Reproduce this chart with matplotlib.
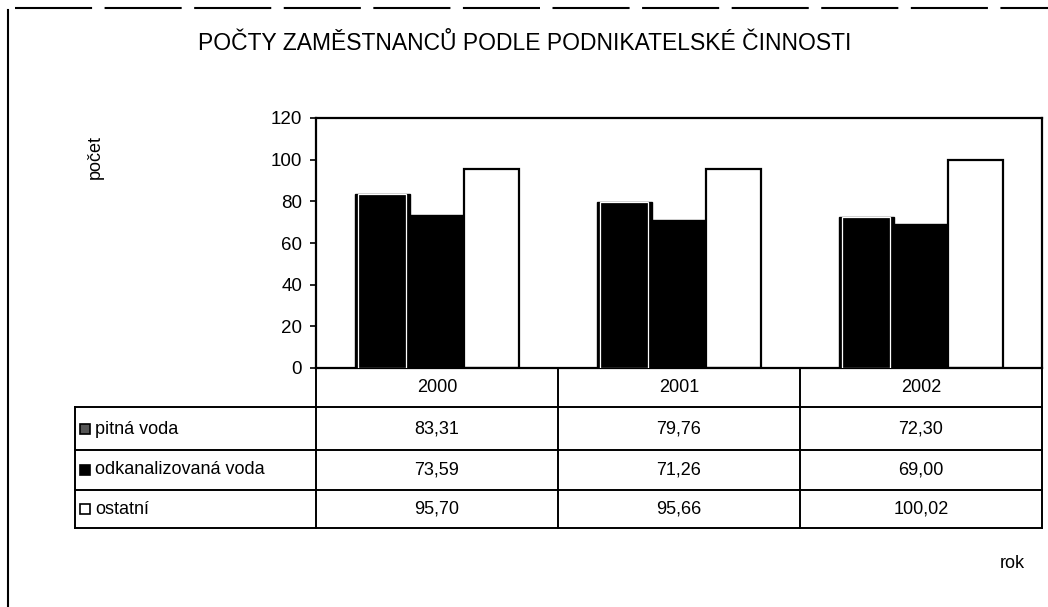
import matplotlib.pyplot as plt
import numpy as np
from matplotlib.lines import Line2D
from matplotlib.patches import Rectangle
from matplotlib.transforms import blended_transform_factory

years = ["2000", "2001", "2002"]
series_names = ["pitná voda", "odkanalizovaná voda", "ostatní"]
pitna = [83.31, 79.76, 72.30]
odkanalizovana = [73.59, 71.26, 69.00]
ostatni = [95.70, 95.66, 100.02]
yticks = [0, 20, 40, 60, 80, 100, 120]

W, H = 1048, 607
plt.rcParams["font.family"] = ["Liberation Sans", "DejaVu Sans"]


def fx(px):
    return px / W


def fy(py):
    return 1 - py / H


def fmt(v):
    return f"{v:.2f}".replace(".", ",")


fig = plt.figure(figsize=(W / 100, H / 100), dpi=100)
fig.patch.set_facecolor("white")

# page edges from the scan
fig.add_artist(Line2D([fx(8), fx(8)], [fy(10), fy(607)], color="black", lw=1.5))
fig.add_artist(Line2D([fx(15), fx(1048)], [fy(8), fy(8)], color="black", lw=1.5,
                      linestyle=(0, (37, 6))))

ax = fig.add_axes([fx(316), fy(368), fx(1042) - fx(316), fy(118) - fy(368)])
x = np.arange(len(years))
w = 0.227
ax.bar(x - w, pitna, w, color="black", edgecolor="black", lw=1, zorder=2)
ax.bar(x - w, pitna, w * 0.86, color="none", edgecolor="white", lw=0.9, zorder=3)
ax.bar(x, odkanalizovana, w, color="black", edgecolor="black", lw=1, zorder=2)
ax.bar(x + w, ostatni, w, color="white", edgecolor="black", lw=1.6, zorder=2)

ax.set_xlim(-0.5, len(years) - 0.5)
ax.set_ylim(0, 120)
ax.set_yticks(yticks)
ax.tick_params(axis="y", labelsize=13.5, length=4, width=1.2, direction="out", pad=6)
ax.set_xticks([])
for s in ax.spines.values():
    s.set_linewidth(1.6)

fig.text(fx(525), fy(43), "POČTY ZAMĚSTNANCŮ PODLE PODNIKATELSKÉ ČINNOSTI",
         ha="center", va="center", fontsize=16.5)
fig.text(fx(95), fy(157), "počet", rotation=90, ha="center", va="center", fontsize=13)
fig.text(fx(1012), fy(563), "rok", ha="center", va="center", fontsize=13)

# data table under the chart
row_lines = [407, 450, 490, 528]
col_lines = [316, 558, 800, 1042]
for py in row_lines:
    fig.add_artist(Line2D([fx(75), fx(1042)], [fy(py), fy(py)], color="black", lw=1.4))
for px in col_lines:
    fig.add_artist(Line2D([fx(px), fx(px)], [fy(368), fy(528)], color="black", lw=1.4))
fig.add_artist(Line2D([fx(75), fx(75)], [fy(407), fy(528)], color="black", lw=1.4))

tr = blended_transform_factory(ax.transData, fig.transFigure)
for i, yr in enumerate(years):
    fig.text(i, fy(388), yr, transform=tr, ha="center", va="center", fontsize=13)

row_centers = [429, 470, 509]
all_series = [pitna, odkanalizovana, ostatni]
marker_faces = ["#555555", "black", "white"]
for name, vals, yc, face in zip(series_names, all_series, row_centers, marker_faces):
    fig.add_artist(Rectangle((fx(80), fy(yc + 5)), fx(10), fy(yc - 5) - fy(yc + 5),
                             facecolor=face, edgecolor="black", lw=1.2,
                             transform=fig.transFigure))
    fig.text(fx(95), fy(yc), name, ha="left", va="center", fontsize=13)
    for i, v in enumerate(vals):
        fig.text(i, fy(yc), fmt(v), transform=tr, ha="center", va="center", fontsize=13)

fig.savefig("out.png", dpi=100)
